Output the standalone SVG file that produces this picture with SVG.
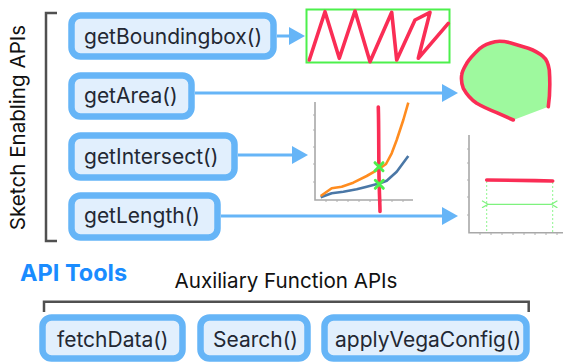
<svg xmlns="http://www.w3.org/2000/svg" width="564" height="363" viewBox="0 0 564 363">
  <style>
    .node rect { fill: #e1effd; stroke: #66b5f7; stroke-width: 6.5; }
    .node text { font-family: Inter, "Noto Sans", "Liberation Sans", sans-serif; font-size: 21px; fill: #232833; }
    .conn line { stroke: #66b5f7; stroke-width: 3; }
    .bracket { fill: none; stroke: #505050; stroke-width: 2.5; }
    .axis { stroke: #a8a8a8; stroke-width: 1.6; fill: none; }
    .tick { stroke: #b0b0b0; stroke-width: 1; }
    .sketch { fill: none; stroke: #fa2d55; stroke-width: 3.6; stroke-linecap: round; stroke-linejoin: round; }
    .label { font-family: Inter, "Noto Sans", "Liberation Sans", sans-serif; fill: #111; }
  </style>
  <defs>
    <marker id="head" viewBox="0 0 16 18" refX="2" refY="9" markerWidth="16" markerHeight="18" markerUnits="userSpaceOnUse" orient="auto">
      <path d="M0,0 L16,9 L0,18 Z" fill="#66b5f7"/>
    </marker>
    <marker id="chev" viewBox="0 0 8 8" refX="1" refY="4" markerWidth="8" markerHeight="8" markerUnits="userSpaceOnUse" orient="auto-start-reverse">
      <path d="M7,0.5 L1,4 L7,7.5" fill="none" stroke="#7ef27e" stroke-width="1.2"/>
    </marker>
  </defs>

  <!-- side label and bracket for the sketch APIs -->
  <text class="label" font-size="20.6" text-anchor="middle" transform="translate(25,127.5) rotate(-90)">Sketch Enabling APIs</text>
  <path class="bracket" d="M57,13 H46 V241 H57"/>

  <!-- connectors -->
  <g id="connectors" class="conn">
    <line x1="277" y1="36" x2="291" y2="36" marker-end="url(#head)"/>
    <line x1="195" y1="93" x2="444" y2="93" marker-end="url(#head)"/>
    <line x1="238" y1="155" x2="294" y2="155" marker-end="url(#head)"/>
    <line x1="221" y1="216" x2="444" y2="216" marker-end="url(#head)"/>
  </g>

  <!-- sketch API nodes -->
  <g id="getBoundingbox" class="node">
    <rect x="71.5" y="15.5" width="202" height="41" rx="9"/>
    <text x="84" y="44">getBoundingbox()</text>
  </g>
  <g id="getArea" class="node">
    <rect x="71.5" y="75.5" width="120" height="41" rx="9"/>
    <text x="84" y="103">getArea()</text>
  </g>
  <g id="getIntersect" class="node">
    <rect x="71.5" y="135.5" width="163" height="42" rx="9"/>
    <text x="84" y="164">getIntersect()</text>
  </g>
  <g id="getLength" class="node">
    <rect x="71.5" y="195.5" width="146" height="42" rx="9"/>
    <text x="84" y="223">getLength()</text>
  </g>

  <!-- bounding box result: scribble inside its green box -->
  <g id="bbox-result">
    <rect x="306.5" y="9.5" width="143" height="53" fill="none" stroke="#4cf04c" stroke-width="2"/>
    <path class="sketch" d="M309.3,60 L325,11.7 L339.3,58.3 L355,11 L370,61.7 L391.7,12.3 L396.7,60 L415,20 L430,12.3 L418.3,58.3 L448.3,23.3"/>
  </g>

  <!-- area result: filled closed shape -->
  <g id="area-result">
    <path d="M548.3,106.7 L550,90 L549.3,70 L543.3,56.7 L528.3,48.3 L510,42.7 L495,41.7 L480,48.3 L466.7,63.3 L461.7,75 L463.3,88.3 L476.7,103.3 L496.7,112.7 L513.3,120 Z" fill="#9ef99e"/>
    <path class="sketch" stroke-width="4" d="M548.3,106.7 C550,95 550,80 549.3,70 C548,62 545,58 543.3,56.7 C538,52 533,50 528.3,48.3 L510,42.7 C503,41 499,41 495,41.7 C489,43 484,45 480,48.3 C474,54 470,58 466.7,63.3 C464,68 462,71 461.7,75 C461,80 462,85 463.3,88.3 C467,95 472,100 476.7,103.3 C483,107 490,110 496.7,112.7 L513.3,120"/>
  </g>

  <!-- intersect result: two series crossed by a stroke -->
  <g id="intersect-result">
    <path class="axis" d="M315,102 V200 H413"/>
    <g class="tick">
      <line x1="313" y1="115" x2="315" y2="115"/><line x1="313" y1="130" x2="315" y2="130"/>
      <line x1="313" y1="147" x2="315" y2="147"/><line x1="313" y1="164" x2="315" y2="164"/>
      <line x1="313" y1="182" x2="315" y2="182"/>
      <line x1="326" y1="200" x2="326" y2="202"/><line x1="337" y1="200" x2="337" y2="202"/>
      <line x1="348" y1="200" x2="348" y2="202"/><line x1="359" y1="200" x2="359" y2="202"/>
      <line x1="370" y1="200" x2="370" y2="202"/><line x1="381" y1="200" x2="381" y2="202"/>
      <line x1="392" y1="200" x2="392" y2="202"/><line x1="403" y1="200" x2="403" y2="202"/>
    </g>
    <polyline fill="none" stroke="#4a77a6" stroke-width="2.6" stroke-linejoin="round" points="320.7,197.3 331.7,193.3 343.3,191.7 356.7,189.3 366.7,186.7 380,183.3 386.7,180.7 396.7,171.7 408.3,156"/>
    <polyline fill="none" stroke="#ff8c1f" stroke-width="2.6" stroke-linejoin="round" points="320.7,196 331.7,188.3 341.7,186.7 353.3,182.7 366.7,176 380,168.3 386,164 391.7,153.3 396.7,140 403.3,120 408.3,102.7"/>
    <path class="sketch" d="M378.3,107 C379,130 378.5,160 379.2,185 C379.6,200 380,206 380,211.5"/>
    <g stroke="#4cf04c" stroke-width="3" stroke-linecap="round">
      <path d="M375,162.7 L383,170.7 M383,162.7 L375,170.7"/>
      <path d="M375.3,180.3 L383.3,188.3 M383.3,180.3 L375.3,188.3"/>
    </g>
  </g>

  <!-- length result: stroke with its measured span -->
  <g id="length-result">
    <path class="axis" stroke-width="2" d="M469,135 V232.7 H563"/>
    <g class="tick">
      <line x1="467" y1="149" x2="469" y2="149"/><line x1="467" y1="163" x2="469" y2="163"/>
      <line x1="467" y1="180" x2="469" y2="180"/><line x1="467" y1="197" x2="469" y2="197"/>
      <line x1="467" y1="215" x2="469" y2="215"/>
      <line x1="480" y1="233" x2="480" y2="235"/><line x1="491" y1="233" x2="491" y2="235"/>
      <line x1="502" y1="233" x2="502" y2="235"/><line x1="513" y1="233" x2="513" y2="235"/>
      <line x1="524" y1="233" x2="524" y2="235"/><line x1="535" y1="233" x2="535" y2="235"/>
      <line x1="546" y1="233" x2="546" y2="235"/><line x1="557" y1="233" x2="557" y2="235"/>
    </g>
    <g stroke="#8ef58e" stroke-width="1" stroke-dasharray="2,2">
      <line x1="486.7" y1="181" x2="486.7" y2="232"/>
      <line x1="552.7" y1="182" x2="552.7" y2="232"/>
    </g>
    <line x1="488" y1="204.3" x2="551.4" y2="204.3" stroke="#7ef27e" stroke-width="1.2" marker-start="url(#chev)" marker-end="url(#chev)"/>
    <path class="sketch" stroke-width="4" d="M486.7,180 C505,180.3 530,180.5 552.7,181"/>
  </g>

  <!-- auxiliary API section -->
  <text class="label" x="20" y="281" font-size="23.5" font-weight="bold" style="fill:#1a8cff">API Tools</text>
  <text class="label" x="286" y="288" font-size="20.6" text-anchor="middle">Auxiliary Function APIs</text>
  <path class="bracket" d="M44,312 V301.7 H528.7 V312"/>

  <g id="fetchData" class="node">
    <rect x="42.5" y="317.5" width="140" height="41" rx="9"/>
    <text x="57" y="347">fetchData()</text>
  </g>
  <g id="Search" class="node">
    <rect x="200.5" y="317.5" width="107" height="41" rx="9"/>
    <text x="213" y="347">Search()</text>
  </g>
  <g id="applyVegaConfig" class="node">
    <rect x="324.5" y="317.5" width="202" height="41" rx="9"/>
    <text x="335" y="347">applyVegaConfig()</text>
  </g>
</svg>
